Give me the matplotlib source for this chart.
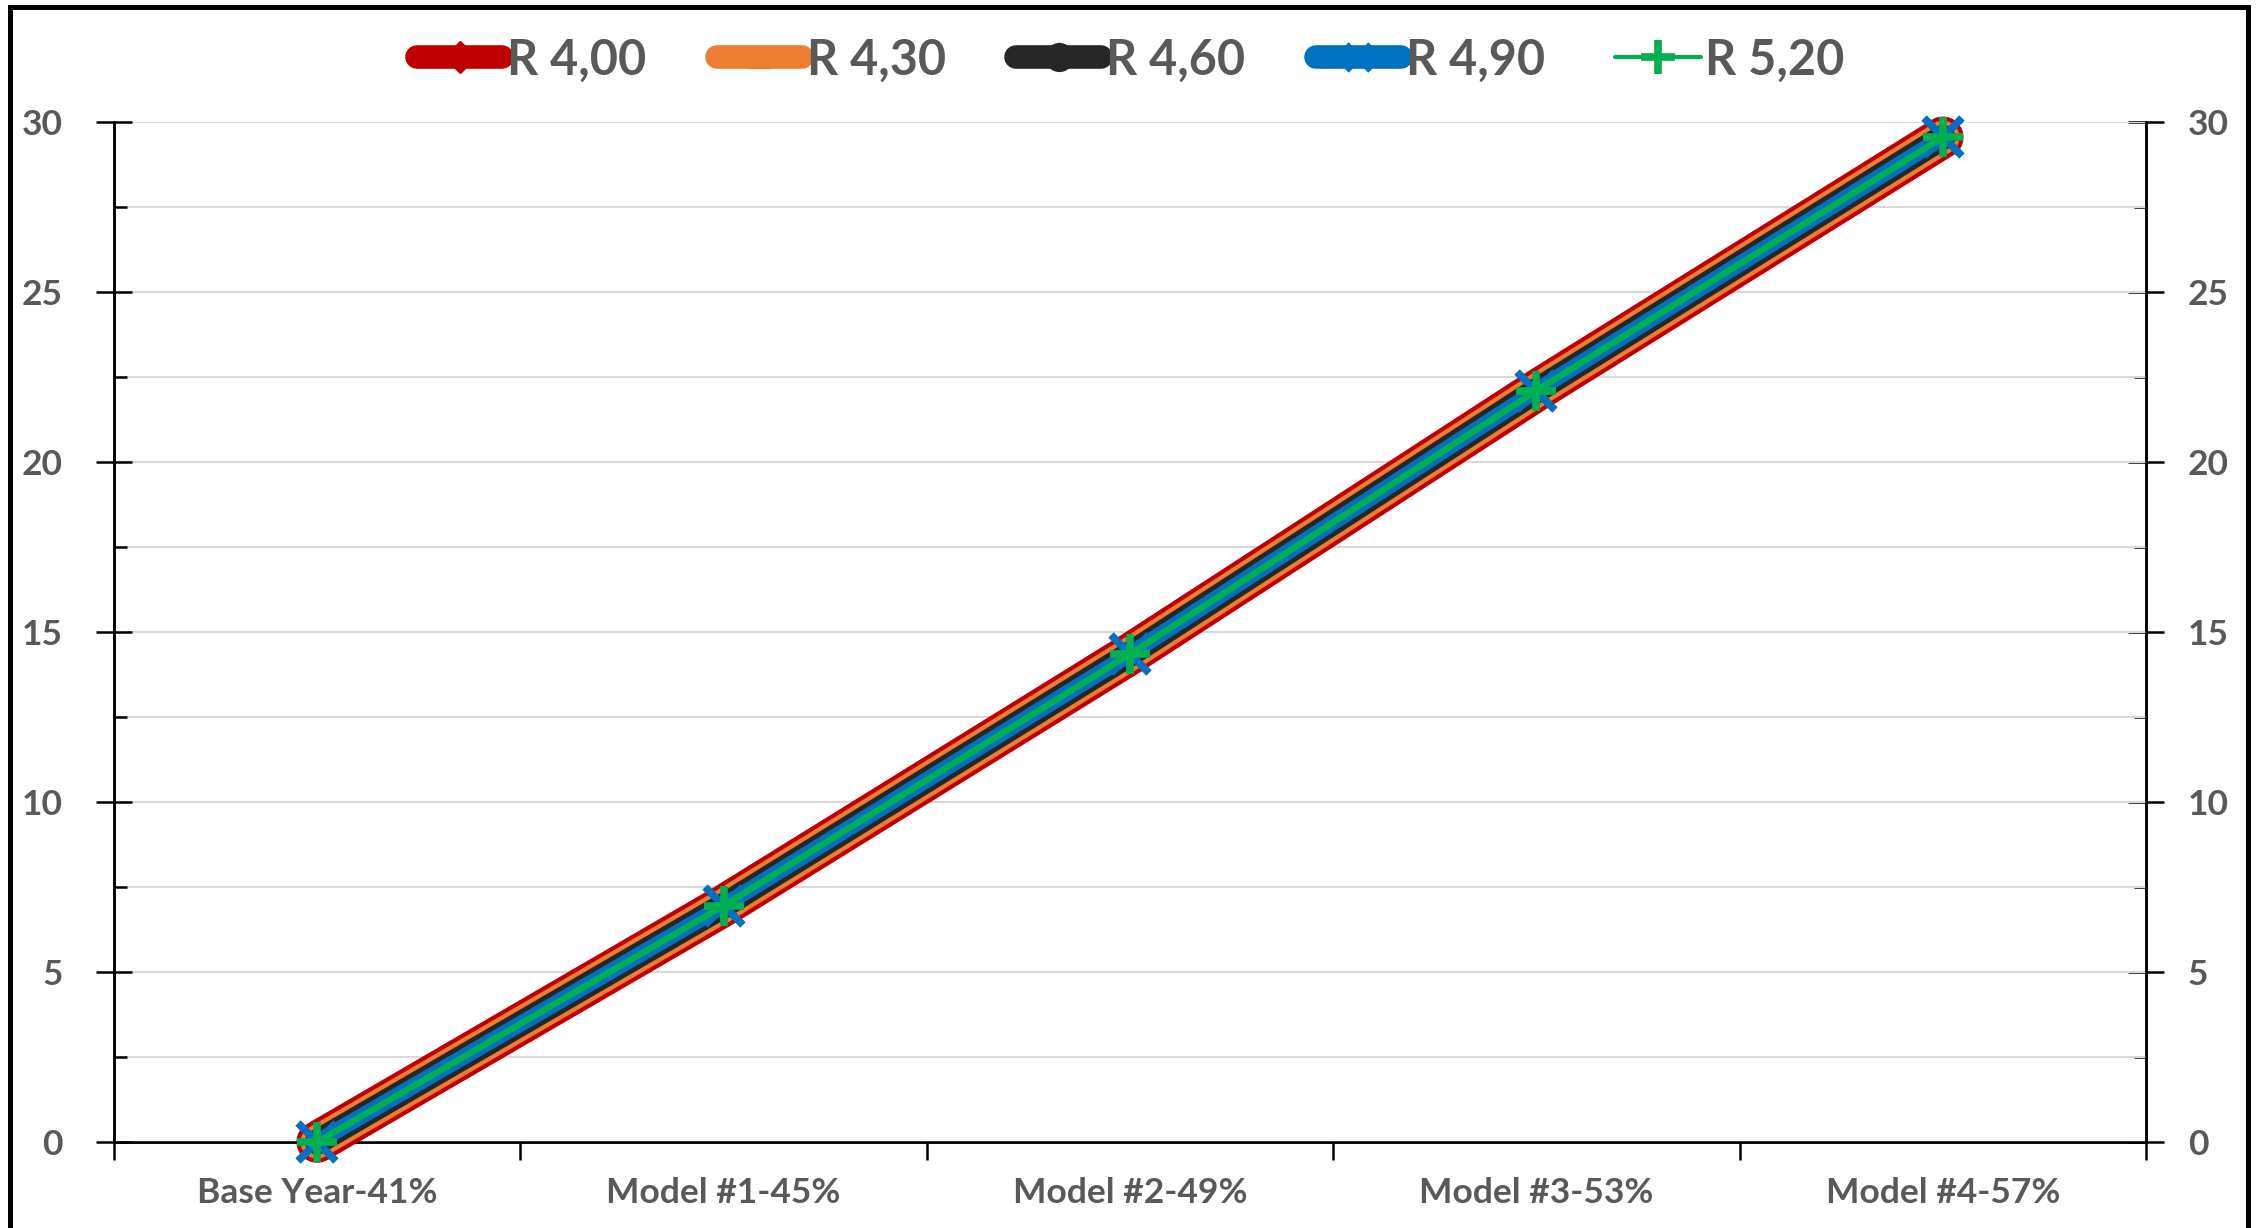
import matplotlib
matplotlib.use("Agg")
import matplotlib.pyplot as plt
from matplotlib.lines import Line2D
from matplotlib.patches import Rectangle
import numpy as np

plt.rcParams['font.family'] = ['Lato', 'DejaVu Sans']
plt.rcParams['font.weight'] = 'bold'

categories = ['Base Year-41%', 'Model #1-45%', 'Model #2-49%', 'Model #3-53%', 'Model #4-57%']
series_names = ['R 4,00', 'R 4,30', 'R 4,60', 'R 4,90', 'R 5,20']
r400 = [0, 6.95, 14.35, 22.1, 29.55]
r430 = [0, 6.95, 14.35, 22.1, 29.55]
r460 = [0, 6.95, 14.35, 22.1, 29.55]
r490 = [0, 6.95, 14.35, 22.1, 29.55]
r520 = [0, 6.95, 14.35, 22.1, 29.55]

colors = ['#C00000', '#ED7D31', '#262626', '#0070C0', '#00B050']
widths = [30, 24, 18, 11.5, 4.5]
markers = ['D', '^', 'o', 'x', '+']
msizes = [12, 14, 16, 27, 29]
mews = [1, 1, 1, 5.5, 5.5]
gray = '#595959'

fig = plt.figure(figsize=(22.62, 12.28), dpi=100)
ax = fig.add_axes([114/2262, 1 - 1142/1228, (2146-114)/2262, (1142-122)/1228])

x = np.arange(len(categories))
for vals, c, lw, m, ms, mew in zip([r400, r430, r460, r490, r520], colors, widths, markers, msizes, mews):
    ax.plot(x, vals, color=c, lw=lw, solid_capstyle='round', solid_joinstyle='round',
            marker=m, markersize=ms, markeredgewidth=mew, markeredgecolor=c,
            markerfacecolor=c, zorder=3, clip_on=False)

ax.set_xlim(-0.5, len(categories) - 0.5)
ax.set_ylim(0, 30)
ax.set_yticks(np.arange(0, 31, 5))
ax.set_yticks(np.arange(2.5, 30, 5), minor=True)
ax.grid(axis='y', which='both', color='#D9D9D9', lw=1.5, zorder=0)
ax.set_xticks(x)
ax.set_xticklabels(categories)
ax.set_xticks(np.arange(-0.5, len(categories), 1), minor=True)
ax.tick_params(axis='x', which='major', length=0, pad=25, labelsize=25.5, labelcolor=gray)
ax.tick_params(axis='x', which='minor', length=13, width=1.8, direction='out', color='black')
ax.tick_params(axis='y', which='major', length=26, width=1.8, direction='inout', pad=24,
               labelsize=25.5, labelcolor=gray)
ax.tick_params(axis='y', which='minor', length=9, width=1.8, direction='in')
ax.spines['top'].set_visible(False)
for s in ['left', 'right', 'bottom']:
    ax.spines[s].set_linewidth(1.8)
    ax.spines[s].set_zorder(2)

ax2 = ax.twinx()
ax2.set_ylim(0, 30)
ax2.set_yticks(np.arange(0, 31, 5))
ax2.set_yticks(np.arange(2.5, 30, 5), minor=True)
ax2.tick_params(axis='y', which='major', length=26, width=1.8, direction='inout', pad=17,
                labelsize=25.5, labelcolor=gray)
ax2.tick_params(axis='y', which='minor', length=9, width=1.8, direction='in')
ax2.spines['top'].set_visible(False)
for s in ['left', 'right', 'bottom']:
    ax2.spines[s].set_linewidth(1.8)
ax.set_zorder(ax2.get_zorder() + 1)
ax.patch.set_visible(False)

handles = []
leg_w = [17, 17, 17, 17, 3]
leg_ms = [16, 16, 20, 18, 24]
for c, lw, m, ms, mew in zip(colors, leg_w, markers, leg_ms, mews):
    handles.append(Line2D([0], [0], color=c, lw=lw, solid_capstyle='round', marker=m,
                          markersize=ms, markeredgewidth=mew if m in 'x+' else 1,
                          markeredgecolor=c, markerfacecolor=c))
fig.legend(handles, series_names, loc='center', bbox_to_anchor=(0.5, 1 - 60/1228), ncol=5,
           frameon=False, fontsize=35, handlelength=1.75, handletextpad=0.1,
           columnspacing=1.45, labelcolor=gray)

fig.add_artist(Rectangle((9.5/2262, -0.1), (2248-9.5)/2262, 1.1 - 6.5/1228,
                         transform=fig.transFigure, fill=False, lw=3.6, color='black',
                         clip_on=False))

fig.savefig('out.png', dpi=100)
